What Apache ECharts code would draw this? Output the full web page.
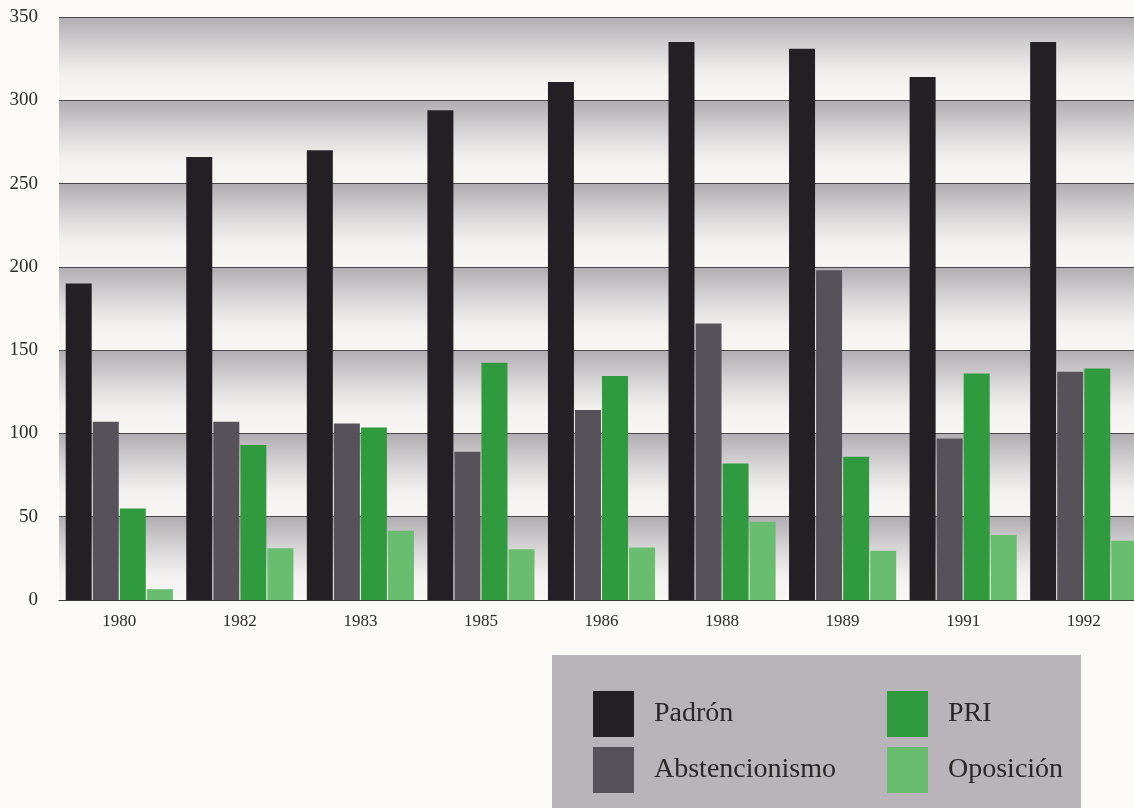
<!DOCTYPE html>
<html>
<head>
<meta charset="utf-8">
<script src="https://cdn.jsdelivr.net/npm/echarts@6/dist/echarts.min.js"></script>
<style>
html,body{margin:0;padding:0;background:#fbfaf7;overflow:hidden;width:1134px;height:808px;}
#c{width:1150px;height:808px;}
</style>
</head>
<body>
<div id="c"></div>
<script>
const years = ['1980','1982','1983','1985','1986','1988','1989','1991','1992'];
const padron = [190, 266, 270, 294, 311, 335, 331, 314, 335];
const abstencionismo = [107, 107, 106, 89, 114, 166, 198, 97, 137];
const pri = [55, 93, 103.5, 142.5, 134.5, 82, 86, 136, 139];
const oposicion = [6.5, 31, 41.5, 30.5, 31.5, 47, 29.5, 39, 35.5];
const yTicks = [0, 50, 100, 150, 200, 250, 300, 350];

const colors = {
  'Padrón': '#241f24',
  'Abstencionismo': '#57525a',
  'PRI': '#2f9a3e',
  'Oposición': '#69bd6f'
};
const serif = '"Liberation Serif", "DejaVu Serif", serif';

const bandGrad = {
  type: 'linear', x: 0, y: 0, x2: 0, y2: 1,
  colorStops: [
    {offset: 0, color: '#b0acb1'},
    {offset: 0.35, color: '#d5d2d4'},
    {offset: 0.7, color: '#f3f1ef'},
    {offset: 1, color: '#f8f7f4'}
  ]
};

function mkSeries(name, data) {
  return {
    name: name, type: 'bar', data: data,
    barWidth: 26, barGap: '4%',
    itemStyle: {color: colors[name]},
    animation: false
  };
}

const chart = echarts.init(document.getElementById('c'));
chart.setOption({
  backgroundColor: '#fbfaf7',
  animation: false,
  graphic: [{
    type: 'rect', left: 552, top: 655, z: -1,
    shape: {width: 529, height: 160},
    style: {fill: '#b9b4b9'}
  }],
  grid: {left: 59, top: 17, width: 1085, height: 583, containLabel: false},
  xAxis: {
    type: 'category', data: years,
    axisLine: {show: true, lineStyle: {color: '#3a3a3a', width: 1.2}},
    axisTick: {show: false},
    axisLabel: {fontFamily: serif, fontSize: 17, color: '#2b2b2b', margin: 13}
  },
  yAxis: {
    type: 'value', min: 0, max: 350, interval: 50,
    axisLine: {show: false},
    axisTick: {show: false},
    axisLabel: {
      fontFamily: serif, fontSize: 19, color: '#2b2b2b', margin: 21,
      formatter: v => yTicks.includes(v) ? String(v) : ''
    },
    splitLine: {show: true, lineStyle: {color: '#4a474a', width: 1.2}},
    splitArea: {show: true, areaStyle: {color: [bandGrad, bandGrad]}}
  },
  legend: [{
    data: ['Padrón', 'Abstencionismo'],
    orient: 'vertical', left: 593, top: 691, padding: 0,
    itemWidth: 41, itemHeight: 46, itemGap: 10,
    icon: 'rect',
    textStyle: {fontFamily: serif, fontSize: 28, color: '#2a2628', padding: [9, 0, 0, 15]}
  }, {
    data: ['PRI', 'Oposición'],
    orient: 'vertical', left: 887, top: 691, padding: 0,
    itemWidth: 41, itemHeight: 46, itemGap: 10,
    icon: 'rect',
    textStyle: {fontFamily: serif, fontSize: 28, color: '#2a2628', padding: [9, 0, 0, 15]}
  }],
  series: [
    mkSeries('Padrón', padron),
    mkSeries('Abstencionismo', abstencionismo),
    mkSeries('PRI', pri),
    mkSeries('Oposición', oposicion)
  ]
});
</script>
</body>
</html>
